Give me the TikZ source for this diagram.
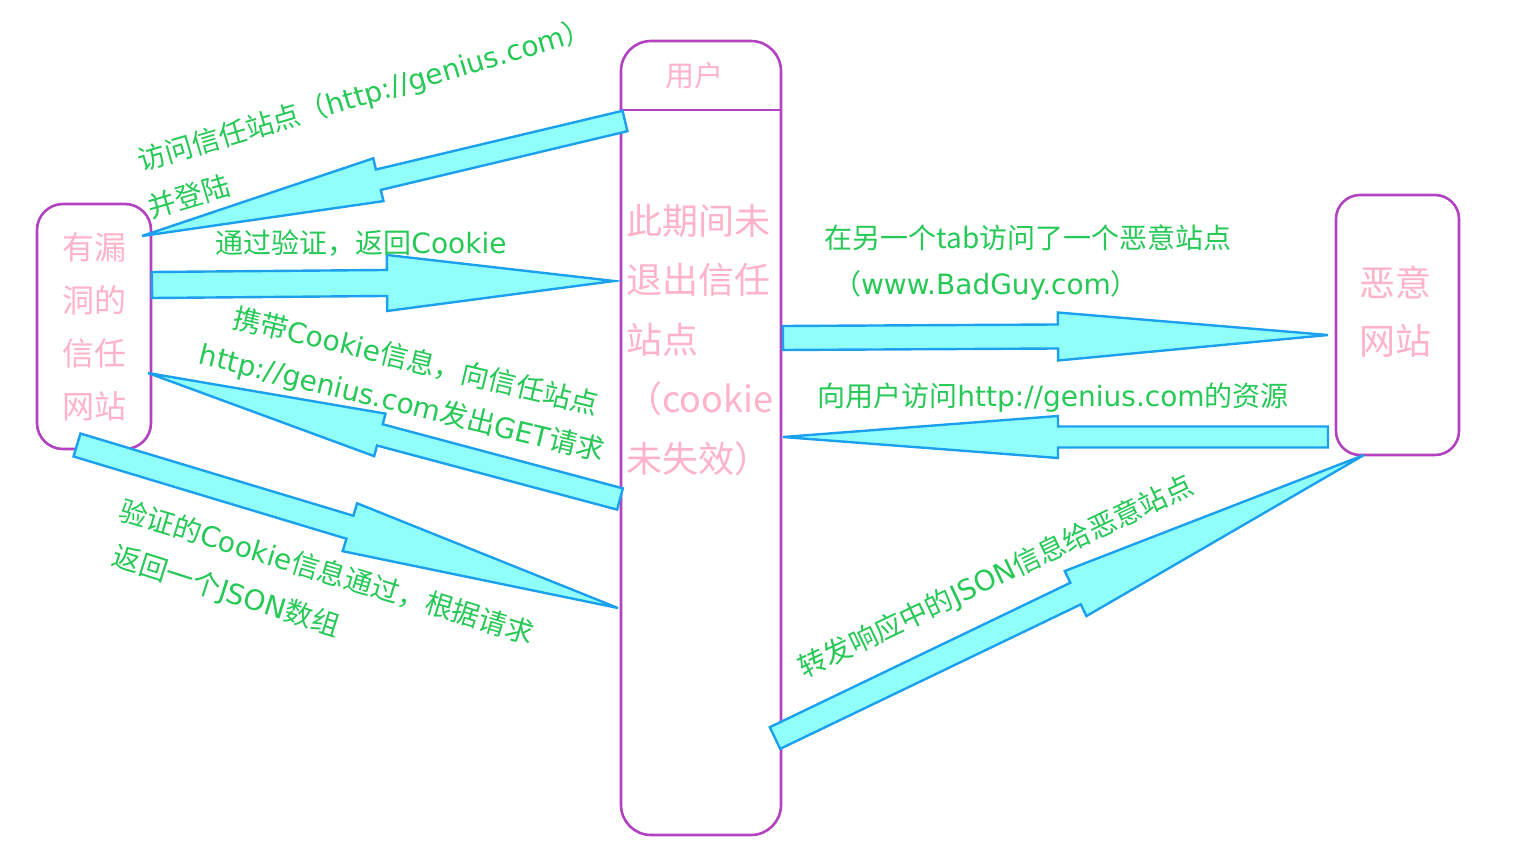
\documentclass[tikz,border=0pt]{standalone}
\usepackage{fontspec}
\setmainfont{Noto Sans CJK SC}
\newfontfamily\handfont{DejaVu Sans}
\newcommand\hd[1]{{\handfont #1}}
\usetikzlibrary{calc}
\definecolor{boxpurple}{RGB}{178,66,192}
\definecolor{pinktxt}{RGB}{255,178,200}
\definecolor{greentxt}{RGB}{38,200,86}
\definecolor{arrline}{RGB}{28,160,238}
\definecolor{arrfill}{RGB}{144,255,250}
\tikzset{
  sitebox/.style={draw=boxpurple, line width=2.6pt, rounded corners=26pt, inner sep=0pt},
  pinklbl/.style={text=pinktxt, align=center, inner sep=0pt},
  lbl/.style={text=greentxt, inner sep=0pt, font=\fontsize{28}{34}\selectfont},
  barrow/.style={draw=arrline, fill=arrfill, line width=2.4pt, line join=miter},
}
% #1 start, #2 end, #3 shaft half width, #4 head half width, #5 head length
\newcommand\blockarr[5]{%
  \coordinate (tmpn) at ($(#2)!#5!(#1)$);
  \draw[barrow] ($(#1)!#3!90:(#2)$) -- ($(tmpn)!#3!90:(#2)$) -- ($(tmpn)!#4!90:(#2)$) -- (#2)
    -- ($(tmpn)!#4!-90:(#2)$) -- ($(tmpn)!#3!-90:(#2)$) -- ($(#1)!#3!-90:(#2)$) -- cycle;
}
\begin{document}
\begin{tikzpicture}[x=1pt,y=-1pt]
\useasboundingbox[fill=white] (0,0) rectangle (1532,865);
% boxes
\node[sitebox, minimum width=114pt, minimum height=245pt, pinklbl,
      font=\fontsize{32}{53}\selectfont] (trust) at (94,326.5) {有漏\\洞的\\信任\\网站};
\node[sitebox, rounded corners=30pt, minimum width=160pt, minimum height=794pt] (user) at (701,438) {};
\draw[boxpurple, line width=2.6pt] (user.west |- 0,110) coordinate (hl) -- (user.east |- 0,110) coordinate (hr);
\node[pinklbl, font=\fontsize{29}{34}\selectfont] (userlbl) at (694,75) {用户};
\node[pinklbl, align=left, anchor=west, font=\fontsize{36}{59.5}\selectfont] (usertxt) at (626,340)
  {此期间未\\退出信任\\站点\\（cookie\\未失效）};
\node[sitebox, rounded corners=24pt, minimum width=123pt, minimum height=260pt] (evil) at (1397.5,325) {};
\node[pinklbl, font=\fontsize{36}{58}\selectfont] (evillbl) at (1395,312) {恶意\\网站};
% connector end points
\coordinate (a1s) at (625,121); \coordinate (a1e) at (142,236);
\coordinate (a2s) at (152,285); \coordinate (a2e) at (614,281);
\coordinate (a3s) at (620,499); \coordinate (a3e) at (148,373);
\coordinate (a4s) at (77,445);  \coordinate (a4e) at (618,608);
\coordinate (a5s) at (783,338); \coordinate (a5e) at (1328,335);
\coordinate (a6s) at (1328,437); \coordinate (a6e) at (783,437);
\coordinate (a7s) at (775,738); \coordinate (a7e) at (1364,455);
% block arrows
\blockarr{a1s}{a1e}{10.5pt}{22pt}{243pt}
\blockarr{a2s}{a2e}{13pt}{28pt}{227pt}
\blockarr{a3s}{a3e}{11pt}{22pt}{240pt}
\blockarr{a4s}{a4e}{12pt}{25pt}{280pt}
\blockarr{a5s}{a5e}{12pt}{24pt}{270pt}
\blockarr{a6s}{a6e}{10.5pt}{21pt}{275pt}
\blockarr{a7s}{a7e}{12pt}{25pt}{320pt}
% labels
\node[lbl, rotate=16.5] (l1) at (365,96) {访问信任站点（\hd{http://genius.com}）};
\node[lbl, rotate=16.5] (l1b) at (189,196) {并登陆};
\node[lbl] (l2) at (361,243) {通过验证，返回\hd{Cookie}};
\node[lbl, rotate=-13.6] (l3) at (416,361) {携带\hd{Cookie}信息，向信任站点};
\node[lbl, rotate=-13.6] (l4) at (402,404) {\hd{http://genius.com}发出\hd{GET}请求};
\node[lbl, rotate=-16.8] (l5) at (327,572) {验证的\hd{Cookie}信息通过，根据请求};
\node[lbl, rotate=-17.7] (l6) at (226,592) {返回一个\hd{JSON}数组};
\node[lbl] (l7) at (1028,238) {在另一个tab访问了一个恶意站点};
\node[lbl] (l8) at (986,285) {（\hd{www.BadGuy.com}）};
\node[lbl] (l9) at (1053,398) {向用户访问\hd{http://genius.com}的资源};
\node[lbl, rotate=25.5] (l10) at (996,577) {转发响应中的\hd{JSON}信息给恶意站点};
\end{tikzpicture}
\end{document}
